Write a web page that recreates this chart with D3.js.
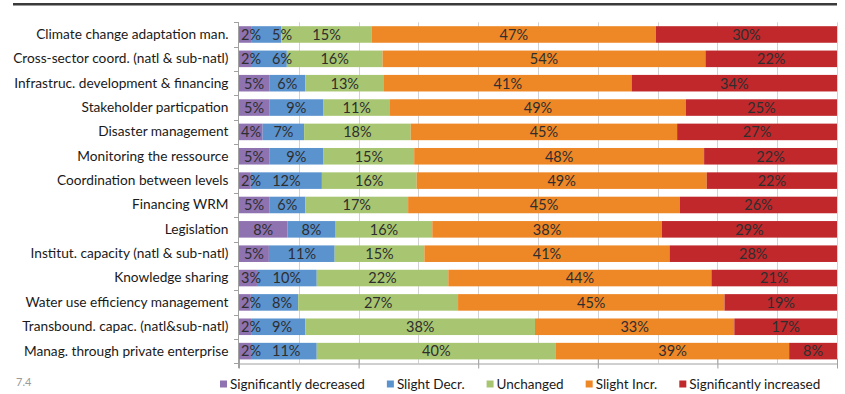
<!DOCTYPE html>
<html>
<head>
<meta charset="utf-8">
<script src="https://cdn.jsdelivr.net/npm/d3@7"></script>
<style>
  html, body { margin: 0; padding: 0; background: #fff; }
  svg { display: block; font-family: Lato, "Open Sans", sans-serif; }
</style>
</head>
<body>
<svg id="chart" width="845" height="394"></svg>
<script>
// Survey categories, top to bottom
const categories = [
  "Climate change adaptation man.",
  "Cross-sector coord. (natl & sub-natl)",
  "Infrastruc. development & financing",
  "Stakeholder particpation",
  "Disaster management",
  "Monitoring the ressource",
  "Coordination between levels",
  "Financing WRM",
  "Legislation",
  "Institut. capacity (natl & sub-natl)",
  "Knowledge sharing",
  "Water use efficiency management",
  "Transbound. capac. (natl&sub-natl)",
  "Manag. through private enterprise"
];

// Response shares (%) per category, one array per answer
const sigDecreased = [2, 2, 5, 5, 4, 5, 2, 5, 8, 5, 3, 2, 2, 2];
const slightDecr   = [5, 6, 6, 9, 7, 9, 12, 6, 8, 11, 10, 8, 9, 11];
const unchanged    = [15, 16, 13, 11, 18, 15, 16, 17, 16, 15, 22, 27, 38, 40];
const slightIncr   = [47, 54, 41, 49, 45, 48, 49, 45, 38, 41, 44, 45, 33, 39];
const sigIncreased = [30, 22, 34, 25, 27, 22, 22, 26, 29, 28, 21, 19, 17, 8];

const seriesNames = ["Significantly decreased", "Slight Decr.", "Unchanged", "Slight Incr.", "Significantly increased"];
const seriesValues = [sigDecreased, slightDecr, unchanged, slightIncr, sigIncreased];
const colors = ["#8f72b0", "#5b93cf", "#a8c672", "#ee8726", "#c0282c"];

const rows = categories.map((c, i) => {
  const r = { category: c };
  seriesNames.forEach((s, k) => { r[s] = seriesValues[k][i]; });
  return r;
});

const svg = d3.select("#chart");

// Rule across the top of the figure
svg.append("line").attr("x1", 13).attr("x2", 837).attr("y1", 4).attr("y2", 4)
  .attr("stroke", "#3a3a3a").attr("stroke-width", 2);
svg.append("line").attr("x1", 13).attr("x2", 837).attr("y1", 5.5).attr("y2", 5.5)
  .attr("stroke", "#9a9a9a").attr("stroke-width", 1);

const plot = { left: 239, right: 837, top: 22.3, bottom: 363.3 };

const x = d3.scaleLinear().domain([0, 1]).range([plot.left, plot.right]);
const y = d3.scaleBand().domain(categories).range([plot.top, plot.bottom])
  .paddingInner(0.32).paddingOuter(0.16);

// Vertical gridlines every 10 %
svg.append("g").selectAll("line")
  .data(d3.range(0.1, 1.0001, 0.1))
  .join("line")
  .attr("x1", d => Math.round(x(d)) + 0.5).attr("x2", d => Math.round(x(d)) + 0.5)
  .attr("y1", plot.top).attr("y2", plot.bottom)
  .attr("stroke", "#d2d2d2").attr("stroke-width", 1);

// Bottom axis with major ticks every 20 %, crossing the axis line
svg.append("g")
  .attr("transform", `translate(0,${Math.round(plot.bottom) + 0.5})`)
  .call(d3.axisBottom(x).tickValues(d3.range(0, 1.0001, 0.2)).tickSize(5).tickSizeOuter(0).tickFormat(""))
  .call(g => g.selectAll(".tick line").attr("stroke", "#a0a0a0").attr("y1", -5))
  .call(g => g.select(".domain").attr("stroke", "#a0a0a0"));

// Stacked 100 % bars
const stack = d3.stack().keys(seriesNames).offset(d3.stackOffsetExpand);
const layers = stack(rows);

const layerG = svg.append("g").selectAll("g")
  .data(layers)
  .join("g")
  .attr("fill", (d, i) => colors[i]);

layerG.selectAll("rect")
  .data(d => d)
  .join("rect")
  .attr("x", d => x(d[0]))
  .attr("y", d => y(d.data.category))
  .attr("width", d => x(d[1]) - x(d[0]))
  .attr("height", y.bandwidth());

// Value labels: centred in each segment, nudged right so narrow
// segments' labels stay inside the plot and do not collide.
const labelRows = rows.map((r, i) => ({
  category: r.category,
  items: layers.map(l => ({ key: l.key, p: l[i] }))
}));

const rowG = svg.append("g").selectAll("g")
  .data(labelRows)
  .join("g");

rowG.each(function(row) {
  const g = d3.select(this);
  let prevRight = null;
  row.items.forEach(item => {
    const t = g.append("text")
      .attr("y", y(row.category) + y.bandwidth() / 2)
      .attr("dy", "0.37em")
      .attr("font-size", 14.5)
      .attr("fill", "#2e2e2e")
      .text(item.p.data[item.key] + "%");
    const w = t.node().getComputedTextLength();
    let left = (x(item.p[0]) + x(item.p[1])) / 2 - w / 2;
    left = Math.max(left, prevRight === null ? plot.left + 2 : prevRight + 11);
    t.attr("x", left);
    prevRight = left + w;
  });
});

// Left category axis
svg.append("g")
  .attr("transform", `translate(${plot.left - 0.5},0)`)
  .call(d3.axisLeft(y).tickSize(0).tickPadding(10).tickSizeOuter(0))
  .call(g => g.select(".domain").attr("stroke", "#a0a0a0").attr("d", `M0,${plot.top}V${plot.bottom + 5}`))
  .call(g => g.selectAll("text").attr("font-size", 13.7).attr("fill", "#1a1a1a")
    .attr("font-family", "Lato, 'Open Sans', sans-serif"));

// Category separator ticks on the left axis
svg.append("g").selectAll("line")
  .data(d3.range(categories.length + 1))
  .join("line")
  .attr("x1", plot.left - 5).attr("x2", plot.left)
  .attr("y1", i => Math.round(plot.top + i * y.step()) + 0.5)
  .attr("y2", i => Math.round(plot.top + i * y.step()) + 0.5)
  .attr("stroke", "#a0a0a0");

// Figure number
svg.append("text").attr("x", 16).attr("y", 386).attr("font-size", 11)
  .attr("fill", "#9a9a9a").text("7.4");

// Legend
const legend = svg.append("g");
let lx = 220;
seriesNames.forEach((name, i) => {
  legend.append("rect").attr("x", lx).attr("y", 380.5).attr("width", 7).attr("height", 7)
    .attr("fill", colors[i]);
  const t = legend.append("text").attr("x", lx + 10).attr("y", 388.5)
    .attr("font-size", 13.5).attr("fill", "#1a1a1a").text(name);
  lx += 10 + t.node().getComputedTextLength() + 22;
});
</script>
</body>
</html>
